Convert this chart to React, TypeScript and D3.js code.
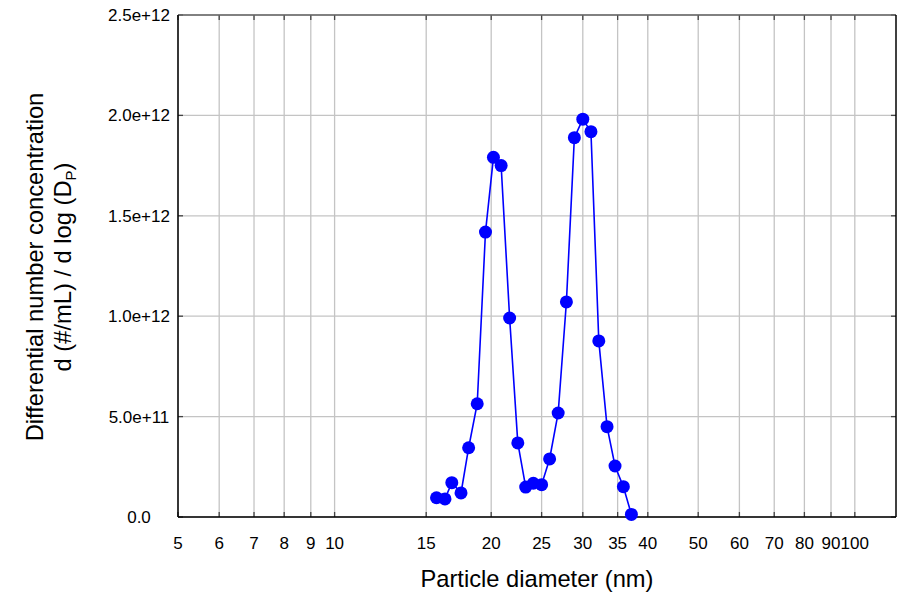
import React from "react";
import * as d3 from "d3";

const diameters = [15.7, 16.3, 16.8, 17.5, 18.1, 18.8, 19.5, 20.2, 20.9, 21.7, 22.5, 23.3, 24.1, 25.0, 25.9, 26.9, 27.9, 28.9, 30.0, 31.1, 32.2, 33.4, 34.6, 35.9, 37.2];
const concentrations = [0.096e12, 0.09e12, 0.171e12, 0.12e12, 0.345e12, 0.564e12, 1.419e12, 1.791e12, 1.75e12, 0.991e12, 0.369e12, 0.149e12, 0.168e12, 0.161e12, 0.289e12, 0.518e12, 1.071e12, 1.889e12, 1.981e12, 1.919e12, 0.877e12, 0.45e12, 0.254e12, 0.151e12, 0.013e12];
const xTicks = [5, 6, 7, 8, 9, 10, 15, 20, 25, 30, 35, 40, 50, 60, 70, 80, 90, 100];
const yTicks = [0, 0.5e12, 1.0e12, 1.5e12, 2.0e12, 2.5e12];
const yTickLabels = ["0.0", "5.0e+11", "1.0e+12", "1.5e+12", "2.0e+12", "2.5e+12"];

export default function App() {
  const left = 178, right = 896, top = 15, bottom = 517;
  const x = d3.scaleLog().domain([5, 120]).range([left, right]);
  const y = d3.scaleLinear().domain([0, 2.5e12]).range([bottom, top]);
  const line = d3.line<number>().x((_, i) => x(diameters[i])).y((d) => y(d));
  const font = "'Liberation Sans', Arial, sans-serif";
  const grid = "#c4c4c4";
  return (
    <svg width={906} height={597} style={{ position: "absolute", left: 0, top: 0, background: "#fff" }} fontFamily={font}>
      {xTicks.map((t) => (
        <line key={"gx" + t} x1={x(t)} x2={x(t)} y1={top} y2={bottom} stroke={grid} strokeWidth={1.3} />
      ))}
      {yTicks.map((t) => (
        <line key={"gy" + t} x1={left} x2={right} y1={y(t)} y2={y(t)} stroke={grid} strokeWidth={1.3} />
      ))}
      {xTicks.map((t) => (
        <g key={"tx" + t}>
          <line x1={x(t)} x2={x(t)} y1={top} y2={top + 5} stroke="#444" strokeWidth={1.3} />
          <line x1={x(t)} x2={x(t)} y1={bottom} y2={bottom - 5} stroke="#444" strokeWidth={1.3} />
        </g>
      ))}
      {yTicks.map((t) => (
        <g key={"ty" + t}>
          <line x1={left} x2={left + 5} y1={y(t)} y2={y(t)} stroke="#444" strokeWidth={1.3} />
          <line x1={right} x2={right - 5} y1={y(t)} y2={y(t)} stroke="#444" strokeWidth={1.3} />
        </g>
      ))}
      <line x1={left} x2={right} y1={top} y2={top} stroke="#666" strokeWidth={1.5} />
      <line x1={right} x2={right} y1={top} y2={bottom} stroke="#000" strokeWidth={1.5} />
      <line x1={left} x2={left} y1={top} y2={bottom} stroke="#000" strokeWidth={1.5} />
      <line x1={left} x2={right} y1={bottom} y2={bottom} stroke="#000" strokeWidth={1.5} />
      <path d={line(concentrations) || ""} fill="none" stroke="#0000ff" strokeWidth={1.6} />
      {concentrations.map((c, i) => (
        <circle key={"p" + i} cx={x(diameters[i])} cy={y(c)} r={6.5} fill="#0000ff" />
      ))}
      {xTicks.map((t) => (
        <text key={"lx" + t} x={x(t)} y={549} fontSize={17} textAnchor="middle" fill="#000">{t}</text>
      ))}
      {yTicks.map((t, i) => (
        <text key={"ly" + t} x={139} y={y(t) + 6} fontSize={17} textAnchor="middle" fill="#000">{yTickLabels[i]}</text>
      ))}
      <text x={537} y={587} fontSize={23.7} textAnchor="middle" fill="#000">Particle diameter (nm)</text>
      <text transform="translate(43,267) rotate(-90)" fontSize={23.7} textAnchor="middle" fill="#000">Differential number concentration</text>
      <text transform="translate(71,267) rotate(-90)" fontSize={23.7} textAnchor="middle" fill="#000">
        d (#/mL) / d log (D<tspan fontSize={15} dy={5}>P</tspan><tspan dy={-5}>)</tspan>
      </text>
    </svg>
  );
}
